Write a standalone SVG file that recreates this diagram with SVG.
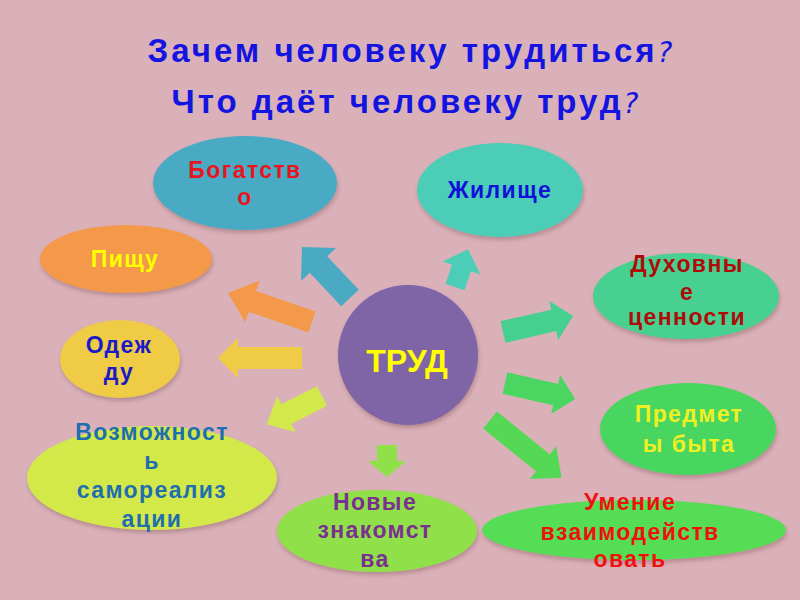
<svg xmlns="http://www.w3.org/2000/svg" width="800" height="600" viewBox="0 0 800 600">
  <defs>
    <filter id="sh" x="-20%" y="-20%" width="140%" height="150%">
      <feDropShadow dx="1" dy="3" stdDeviation="2" flood-color="#704040" flood-opacity="0.35"/>
    </filter>
    <style>
      .t { font-family: "Liberation Sans", Arial, sans-serif; font-weight: bold; text-anchor: middle; }
      .title { font-size: 33px; letter-spacing: 3px; fill: #1414e0; }
      .q { font-family: "DejaVu Sans", sans-serif; font-weight: normal; font-style: italic; font-size: 28px; letter-spacing: 0; }
      .lbl { font-size: 23px; letter-spacing: 1.4px; }
      .node ellipse, .node circle { filter: url(#sh); }
    </style>
  </defs>
  <rect x="0" y="0" width="800" height="600" fill="#dbb1b9"/>

  <g id="title">
    <text class="t title" x="410" y="62">Зачем человеку трудиться<tspan class="q">?</tspan></text>
    <text class="t title" x="405" y="113">Что даёт человеку труд<tspan class="q">?</tspan></text>
  </g>

  <g id="connectors">
    <polygon fill="#4aaac4" transform="translate(350,298) rotate(-133.3)" points="0,-12 46,-12 46,-24 70,0 46,24 46,12 0,12"/>
    <polygon fill="#4ccdb8" transform="translate(455,287) rotate(-71.1)" points="0,-10 20,-10 20,-20 40,0 20,20 20,10 0,10"/>
    <polygon fill="#f4984a" transform="translate(312,322) rotate(-160.95)" points="0,-11 63,-11 63,-22 89,0 63,22 63,11 0,11"/>
    <polygon fill="#f0cb45" transform="translate(302,358) rotate(180)" points="0,-11 64,-11 64,-20 84,0 64,20 64,11 0,11"/>
    <polygon fill="#d3e84a" transform="translate(322,396) rotate(153)" points="0,-11 40,-11 40,-20 62,0 40,20 40,11 0,11"/>
    <polygon fill="#90e04a" transform="translate(387,445) rotate(90)" points="0,-10 16,-10 16,-19 32,0 16,19 16,10 0,10"/>
    <polygon fill="#46d090" transform="translate(503,332) rotate(-12.9)" points="0,-11 52,-11 52,-20 72,0 52,20 52,11 0,11"/>
    <polygon fill="#4ad660" transform="translate(505,383) rotate(12.9)" points="0,-11 52,-11 52,-20 72,0 52,20 52,11 0,11"/>
    <polygon fill="#55d855" transform="translate(490,420) rotate(38.9)" points="0,-11 68,-11 68,-21 92,0 68,21 68,11 0,11"/>
  </g>

  <g id="trud" class="node">
    <circle cx="408" cy="355" r="70" fill="#8065a6"/>
    <text class="t" x="407" y="372" font-size="32" fill="#ffff00">ТРУД</text>
  </g>

  <g id="bogatstvo" class="node">
    <ellipse cx="245" cy="183" rx="92" ry="47" fill="#4aaac4"/>
    <text class="t lbl" x="245" y="178" fill="#e8141e">Богатств</text>
    <text class="t lbl" x="245" y="205" fill="#e8141e">о</text>
  </g>

  <g id="zhilishche" class="node">
    <ellipse cx="500" cy="190" rx="83" ry="47" fill="#4ccdb8"/>
    <text class="t lbl" x="500" y="198" fill="#1010d8">Жилище</text>
  </g>

  <g id="pishchu" class="node">
    <ellipse cx="126" cy="259" rx="86" ry="34" fill="#f4984a"/>
    <text class="t lbl" x="125" y="267" fill="#ffff00">Пищу</text>
  </g>

  <g id="odezhdu" class="node">
    <ellipse cx="120" cy="359" rx="60" ry="39" fill="#f0cb45"/>
    <text class="t lbl" x="119" y="353" fill="#1a1ac8">Одеж</text>
    <text class="t lbl" x="119" y="380" fill="#1a1ac8">ду</text>
  </g>

  <g id="dukhovnye" class="node">
    <ellipse cx="686" cy="296" rx="93" ry="43" fill="#46d090"/>
    <text class="t lbl" x="687" y="272" fill="#b00a0a">Духовны</text>
    <text class="t lbl" x="687" y="300" fill="#b00a0a">е</text>
    <text class="t lbl" x="687" y="325" fill="#b00a0a">ценности</text>
  </g>

  <g id="predmety" class="node">
    <ellipse cx="688" cy="429" rx="88" ry="46" fill="#4ad660"/>
    <text class="t lbl" x="689" y="422" fill="#f0f020">Предмет</text>
    <text class="t lbl" x="689" y="452" fill="#f0f020">ы быта</text>
  </g>

  <g id="umenie" class="node">
    <ellipse cx="634" cy="530" rx="152" ry="30" fill="#55dd55"/>
    <text class="t lbl" x="630" y="510" fill="#f01010">Умение</text>
    <text class="t lbl" x="630" y="540" fill="#f01010">взаимодейств</text>
    <text class="t lbl" x="630" y="567" fill="#f01010">овать</text>
  </g>

  <g id="novye" class="node">
    <ellipse cx="377" cy="531" rx="100" ry="41" fill="#90e04a"/>
    <text class="t lbl" x="375" y="510" fill="#7a3090">Новые</text>
    <text class="t lbl" x="375" y="538" fill="#7a3090">знакомст</text>
    <text class="t lbl" x="375" y="567" fill="#7a3090">ва</text>
  </g>

  <g id="vozmozhnost" class="node">
    <ellipse cx="152" cy="478" rx="125" ry="52" fill="#d3e84a"/>
    <text class="t lbl" x="152" y="440" fill="#1e6eb0">Возможност</text>
    <text class="t lbl" x="152" y="469" fill="#1e6eb0">ь</text>
    <text class="t lbl" x="152" y="498" fill="#1e6eb0">самореализ</text>
    <text class="t lbl" x="152" y="527" fill="#1e6eb0">ации</text>
  </g>
</svg>
